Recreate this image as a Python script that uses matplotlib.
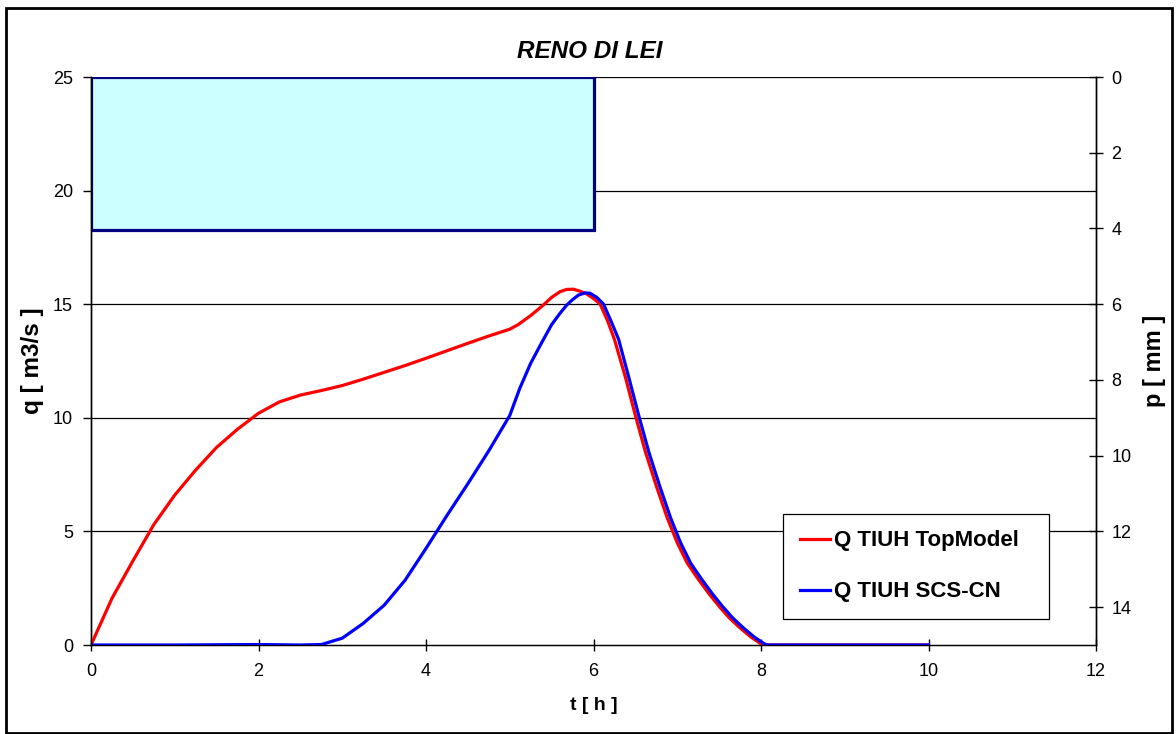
import matplotlib
matplotlib.use("Agg")
import matplotlib.pyplot as plt
from matplotlib.patches import Rectangle

plt.rcParams['font.family'] = ['Liberation Sans', 'DejaVu Sans']

# ---- data ----
t_top = [0, 0.25, 0.5, 0.75, 1.0, 1.25, 1.5, 1.75, 2.0, 2.25, 2.5, 2.75, 3.0, 3.25,
         3.5, 3.75, 4.0, 4.25, 4.5, 4.75, 5.0, 5.1, 5.25, 5.4, 5.5, 5.6, 5.68, 5.76,
         5.84, 5.92, 6.0, 6.08, 6.17, 6.25, 6.38, 6.5, 6.62, 6.75, 6.88, 7.0, 7.12,
         7.25, 7.38, 7.5, 7.62, 7.75, 7.88, 8.0, 8.05, 9.0, 10.0]
q_top = [0, 2.05, 3.7, 5.3, 6.6, 7.7, 8.7, 9.5, 10.2, 10.7, 11.0, 11.2, 11.42, 11.7,
         12.0, 12.3, 12.62, 12.95, 13.28, 13.6, 13.9, 14.1, 14.5, 14.96, 15.3, 15.55, 15.65, 15.66,
         15.57, 15.45, 15.25, 15.0, 14.25, 13.45, 11.8, 10.1, 8.5, 7.0, 5.6, 4.5, 3.6,
         2.9, 2.25, 1.7, 1.2, 0.75, 0.35, 0.05, 0, 0, 0]

t_scs = [0, 1.0, 2.0, 2.5, 2.75, 3.0, 3.25, 3.5, 3.75, 4.0, 4.25, 4.5, 4.75, 5.0,
         5.12, 5.25, 5.38, 5.5, 5.6, 5.68, 5.75, 5.82, 5.9, 5.96, 6.04, 6.12, 6.21,
         6.3, 6.42, 6.54, 6.66, 6.79, 6.92, 7.04, 7.16, 7.29, 7.42, 7.54, 7.66,
         7.79, 7.92, 8.04, 8.08, 9.0, 10.0]
q_scs = [0, 0, 0.02, 0, 0.02, 0.3, 0.95, 1.75, 2.85, 4.25, 5.7, 7.1, 8.55, 10.1,
         11.3, 12.4, 13.3, 14.1, 14.6, 14.96, 15.2, 15.4, 15.5, 15.48, 15.3, 15.0, 14.25,
         13.45, 11.8, 10.1, 8.5, 7.0, 5.6, 4.5, 3.6, 2.9, 2.25, 1.7, 1.2,
         0.75, 0.35, 0.05, 0, 0, 0]

rain_start = [0.0]
rain_width = [6.0]
rain_p = [4.05]

q_ticks = [0, 5, 10, 15, 20, 25]
p_ticks = [0, 2, 4, 6, 8, 10, 12, 14]
t_ticks = [0, 2, 4, 6, 8, 10, 12]

# ---- figure ----
W, H = 1176, 734
fig = plt.figure(figsize=(W/100, H/100), dpi=100)
ax = fig.add_axes([91/W, 1-645/H, 1005/W, 568/H])
ax2 = ax.twinx()

# grid (left axis)
for q in q_ticks[1:]:
    ax.axhline(q, color='black', lw=0.9, zorder=0)

l1, = ax.plot(t_top, q_top, color='#FF0000', lw=2.3, label='Q TIUH TopModel', zorder=3)
l2, = ax.plot(t_scs, q_scs, color='#0000FF', lw=2.3, label='Q TIUH SCS-CN', zorder=3)

ax.set_xlim(0, 12)
ax.set_ylim(0, 25)
ax.set_xticks(t_ticks)
ax.set_yticks(q_ticks)
ax.tick_params(axis='y', direction='out', length=6, width=1, labelsize=13, pad=7)
ax.tick_params(axis='x', direction='inout', length=8, width=1, labelsize=13, pad=9)
ax.spines['top'].set_visible(False)
for s in ['left', 'bottom', 'right']:
    ax.spines[s].set_linewidth(1.0)

# hyetograph (right axis, inverted)
ax2.bar(rain_start, rain_p, width=rain_width, align='edge', color='#CCFFFF',
        edgecolor='#000080', linewidth=2.3, zorder=2)
ax2.set_ylim(15, 0)
ax2.set_yticks(p_ticks)
ax2.tick_params(axis='y', direction='inout', length=10, width=1, labelsize=13, pad=6)
ax2.spines['top'].set_visible(False)
ax2.spines['right'].set_linewidth(1.0)
ax2.spines['left'].set_linewidth(1.0)

ax.set_xlabel('t [ h ]', fontsize=14, fontweight='bold')
ax.xaxis.set_label_coords(0.5, (645-706)/568)
ax.xaxis.label.set_va('center')
ax.set_ylabel('q [ m3/s ]', fontsize=17.5, fontweight='bold')
ax.yaxis.set_label_coords((33-91)/1005, 0.5)
ax.yaxis.label.set_va('center')
ax2.set_ylabel('p [ mm ]', fontsize=17, fontweight='bold', rotation=90)
ax2.yaxis.set_label_coords((1155-91)/1005, 0.5)
ax2.yaxis.label.set_va('center')

fig.text(590/W, 1-51/H, 'RENO DI LEI', fontsize=17.5, fontweight='bold',
         fontstyle='italic', ha='center', va='center')

leg = ax2.legend(handles=[l1, l2], loc='lower left',
                 bbox_to_anchor=((783-91)/1005, (645-619)/568, 266/1005, 0.2), mode='expand',
                 prop={'weight': 'bold', 'size': 16}, borderaxespad=0,
                 frameon=True, fancybox=False, shadow=False, framealpha=1,
                 edgecolor='black', handlelength=1.35, handletextpad=0.2,
                 labelspacing=1.35, borderpad=0.75)
leg.get_frame().set_linewidth(0.9)
leg.set_zorder(10)

# outer border
fig.patches.append(Rectangle((6/W, 0.002), 1166/W, 1-9/H, transform=fig.transFigure,
                             fill=False, edgecolor='black', lw=2))

fig.savefig('out.png', dpi=100)
